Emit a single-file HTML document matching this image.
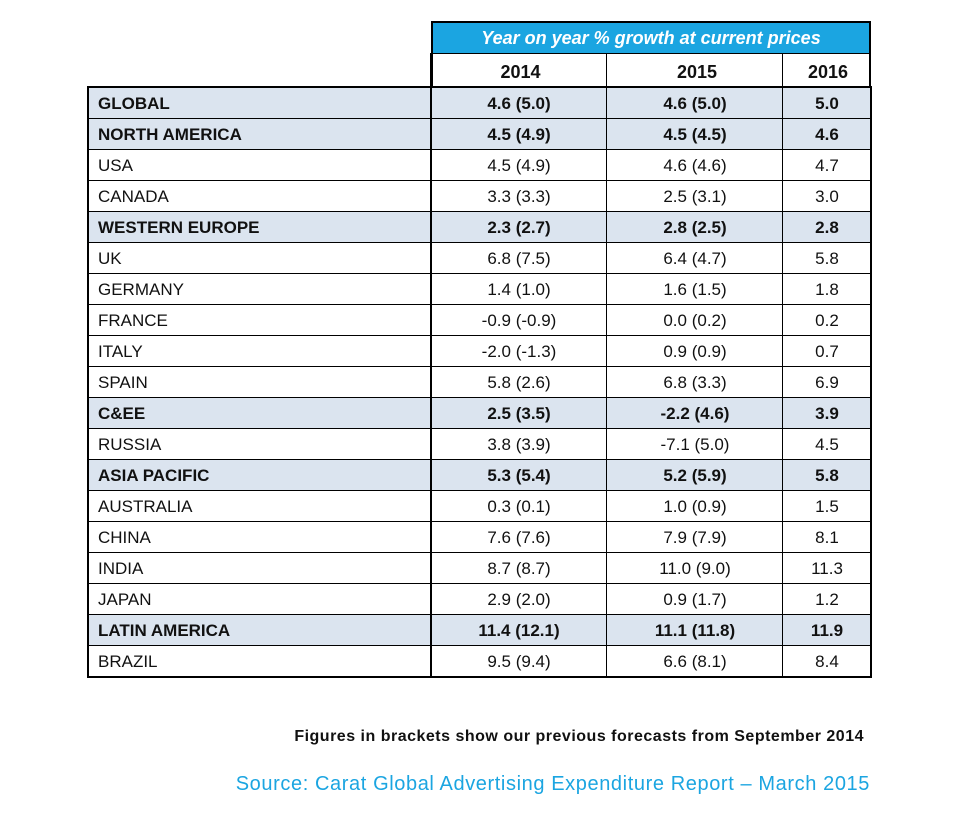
<!DOCTYPE html>
<html><head><meta charset="utf-8"><style>
body{margin:0;width:961px;height:822px;background:#fff;position:relative;font-family:"Liberation Sans",sans-serif;overflow:hidden}
.a{position:absolute;box-sizing:border-box}
.r{position:absolute;box-sizing:border-box;left:88px;width:783px;height:31px;border-bottom:1px solid #000;font-size:17px;color:#111}
.r.b{background:#dbe4ef;font-weight:bold}
.r span{position:absolute;top:0;line-height:31px}
.l{left:10px}.c1{left:343px;width:176px;text-align:center}.c2{left:519px;width:176px;text-align:center}.c3{left:695px;width:88px;text-align:center}
</style></head><body>
<div class="a" style="left:431px;top:21px;width:440px;height:33px;background:#1ba5e1;border:2px solid #000;border-bottom:1px solid #000;color:#fff;font-weight:bold;font-style:italic;font-size:18px;text-align:center;line-height:30px">Year on year % growth at current prices</div>
<div class="a" style="left:431px;top:53px;width:440px;height:35px;border-left:2px solid #000;border-right:2px solid #000;font-weight:bold;font-size:18px;color:#111">
<span class="a" style="left:0;width:175px;text-align:center;line-height:38px">2014</span>
<span class="a" style="left:176px;width:176px;text-align:center;line-height:38px">2015</span>
<span class="a" style="left:352px;width:86px;text-align:center;line-height:38px">2016</span>
</div>
<div id="rows"></div>
<div class="a" style="left:87px;top:86px;width:785px;height:592px;border:2px solid #000"></div>
<div class="a" style="left:430px;top:53px;width:2px;height:625px;background:#000"></div>
<div class="a" style="left:606px;top:53px;width:1px;height:625px;background:#000"></div>
<div class="a" style="left:782px;top:53px;width:1px;height:625px;background:#000"></div>
<div class="a" style="left:200px;top:728px;width:664px;text-align:right;font-size:16px;font-weight:bold;color:#111;letter-spacing:0.5px">Figures in brackets show our previous forecasts from September 2014</div>
<div class="a" style="left:150px;top:773px;width:720px;text-align:right;font-size:20px;color:#1ba5e1;letter-spacing:0.6px">Source: Carat Global Advertising Expenditure Report – March 2015</div>
<script>
var d=[["GLOBAL","4.6 (5.0)","4.6 (5.0)","5.0",1],["NORTH AMERICA","4.5 (4.9)","4.5 (4.5)","4.6",1],["USA","4.5 (4.9)","4.6 (4.6)","4.7"],["CANADA","3.3 (3.3)","2.5 (3.1)","3.0"],["WESTERN EUROPE","2.3 (2.7)","2.8 (2.5)","2.8",1],["UK","6.8 (7.5)","6.4 (4.7)","5.8"],["GERMANY","1.4 (1.0)","1.6 (1.5)","1.8"],["FRANCE","-0.9 (-0.9)","0.0 (0.2)","0.2"],["ITALY","-2.0 (-1.3)","0.9 (0.9)","0.7"],["SPAIN","5.8 (2.6)","6.8 (3.3)","6.9"],["C&amp;EE","2.5 (3.5)","-2.2 (4.6)","3.9",1],["RUSSIA","3.8 (3.9)","-7.1 (5.0)","4.5"],["ASIA PACIFIC","5.3 (5.4)","5.2 (5.9)","5.8",1],["AUSTRALIA","0.3 (0.1)","1.0 (0.9)","1.5"],["CHINA","7.6 (7.6)","7.9 (7.9)","8.1"],["INDIA","8.7 (8.7)","11.0 (9.0)","11.3"],["JAPAN","2.9 (2.0)","0.9 (1.7)","1.2"],["LATIN AMERICA","11.4 (12.1)","11.1 (11.8)","11.9",1],["BRAZIL","9.5 (9.4)","6.6 (8.1)","8.4"]];
var h="";d.forEach(function(r,i){h+='<div class="r'+(r[4]?' b':'')+'" style="top:'+(88+i*31)+'px"><span class="l">'+r[0]+'</span><span class="c1">'+r[1]+'</span><span class="c2">'+r[2]+'</span><span class="c3">'+r[3]+'</span></div>';});
document.getElementById("rows").innerHTML=h;
</script>
</body></html>
